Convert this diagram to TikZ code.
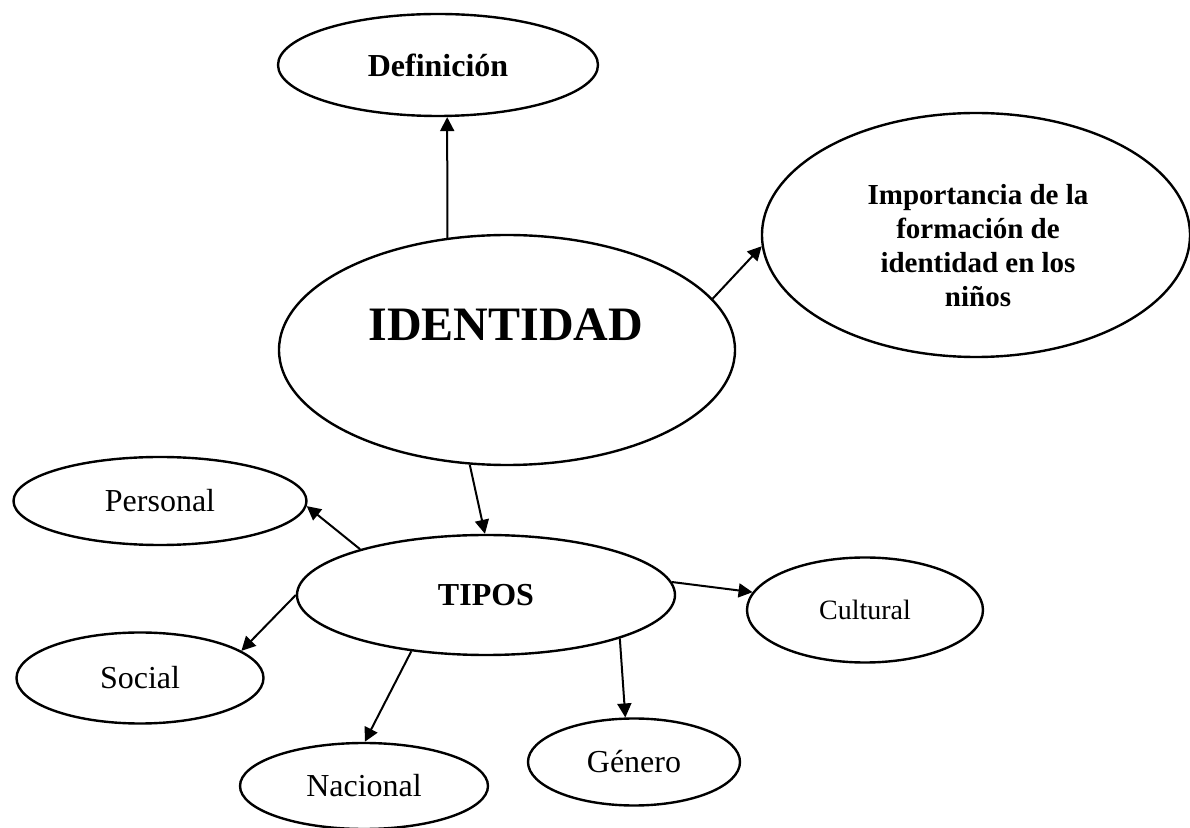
\documentclass[tikz,border=0pt]{standalone}
\usepackage{fontspec}
\setmainfont{Liberation Serif}
\usetikzlibrary{arrows.meta}
\usetikzlibrary{shapes.geometric}

\tikzset{
  bubble/.style={ellipse, draw, line width=1.2pt, inner sep=0pt, align=center,
                 font=\fontsize{16}{19}\selectfont},
  link/.style={-{Triangle[length=7pt,width=7pt]}, line width=1pt}
}

\begin{document}
\begin{tikzpicture}[x=0.5pt,y=-0.5pt]
  \useasboundingbox (0,0) rectangle (1190,828);
  % upper part
  \node[bubble, minimum width=160pt, minimum height=51pt, font=\fontsize{16}{19}\selectfont\bfseries] (def) at (438,65) {Definición};
  \node[bubble, minimum width=228pt, minimum height=115pt] (idn) at (507,350) {};
  \node[font=\fontsize{24}{29}\selectfont\bfseries] (idntxt) at (506,325) {IDENTIDAD};
  \node[bubble, minimum width=214pt, minimum height=122pt] (imp) at (976,235) {};
  \node[align=center, font=\fontsize{14.5}{17}\selectfont\bfseries] (imptxt) at (978,246)
    {Importancia de la\\formación de\\identidad en los\\niños};
  % tipos
  \node[bubble, minimum width=189pt, minimum height=60pt, font=\fontsize{16}{19}\selectfont\bfseries] (tipos) at (486,595) {TIPOS};
  \node[bubble, minimum width=146.5pt, minimum height=44pt] (pers) at (160,501) {Personal};
  \node[bubble, minimum width=123.5pt, minimum height=45.5pt] (soc) at (140,678) {Social};
  \node[bubble, minimum width=124pt, minimum height=43pt] (nac) at (364,786) {Nacional};
  \node[bubble, minimum width=106pt, minimum height=43.5pt] (gen) at (634,762) {Género};
  \node[bubble, minimum width=118pt, minimum height=52.5pt, font=\fontsize{14}{17}\selectfont] (cult) at (865,610) {Cultural};

  \draw[link] (idn.118) -- (def.280);
  \draw[link] (idn.14) -- (imp.183);
  \draw[link] (idn.252) -- (tipos.91);
  \draw[link] (tipos.160) -- (pers.358);
  \draw[link] (tipos.180) -- (soc.15);
  \draw[link] (tipos.217) -- (nac.89);
  \draw[link] (tipos.342) -- (gen.101);
  \draw[link] (tipos.4) -- (cult.171);
\end{tikzpicture}
\end{document}
